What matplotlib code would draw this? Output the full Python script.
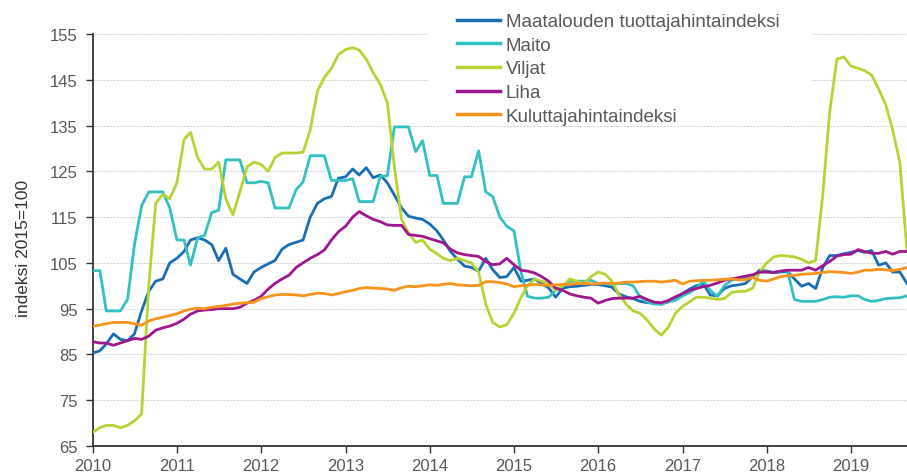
import matplotlib
matplotlib.use("Agg")
import matplotlib.pyplot as plt
import matplotlib.dates as mdates
import pandas as pd
from matplotlib.patches import Rectangle

plt.rcParams["font.family"] = ["Liberation Sans", "DejaVu Sans"]

# monthly indices, Jan 2010 - Sep 2019 (2015=100)
months = pd.date_range("2010-01-01", periods=117, freq="MS")

maatalous = [
    85.3, 85.8, 87.3, 89.5, 88.3, 88.0, 89.5, 94.5, 98.8, 101.0,
    101.5, 105.0, 106.0, 107.5, 110.0, 110.5, 110.0, 109.0, 105.5, 108.2,
    102.5, 101.5, 100.5, 103.0, 104.0, 104.8, 105.5, 108.0, 109.0, 109.5,
    110.0, 115.0, 118.0, 119.0, 119.5, 123.5, 123.8, 125.5, 124.2, 125.8,
    123.6, 124.2, 122.5, 119.8, 117.0, 115.2, 114.8, 114.5, 113.5, 112.0,
    110.0, 107.5, 105.8, 104.3, 104.0, 103.2, 106.0, 103.5, 101.8, 102.0,
    104.0, 101.0, 101.2, 101.5, 100.5, 99.5, 97.5, 99.5, 99.8, 99.9,
    100.1, 100.3, 100.3, 100.0, 99.7, 98.2, 97.6, 97.2, 96.6, 96.3,
    96.2, 96.0, 96.5, 97.3, 98.3, 99.3, 100.0, 100.4, 98.0, 97.8,
    99.4, 100.0, 100.2, 100.5, 102.0, 103.4, 103.2, 102.9, 103.0, 103.1,
    101.5, 99.9, 100.5, 99.4, 104.0, 106.6, 106.6, 107.0, 107.3, 107.7,
    107.3, 107.7, 104.5, 105.0, 103.0, 103.0, 100.5,
]

maito = [
    103.3, 103.3, 94.5, 94.5, 94.5, 97.0, 109.0, 117.5, 120.5, 120.5,
    120.5, 117.0, 110.0, 110.0, 104.5, 110.5, 111.0, 116.0, 116.5, 127.5,
    127.5, 127.5, 122.5, 122.5, 122.8, 122.5, 117.0, 117.0, 117.0, 121.0,
    122.7, 128.4, 128.4, 128.4, 123.0, 123.0, 123.0, 123.4, 118.4, 118.4,
    118.4, 124.0, 124.0, 134.7, 134.7, 134.7, 129.3, 131.7, 124.1, 124.1,
    118.0, 118.0, 118.0, 123.8, 123.8, 129.5, 120.5, 119.5, 115.0, 113.0,
    112.0, 103.0, 97.7, 97.3, 97.3, 97.5, 99.0, 100.0, 101.0, 101.0,
    101.0, 101.2, 100.5, 100.5, 100.2, 100.5, 100.5, 100.0, 97.5, 96.5,
    96.0, 96.0, 96.6, 96.8, 97.8, 98.5, 99.5, 101.0, 99.0, 97.7,
    100.0, 101.2, 101.5, 101.8, 102.2, 103.0, 103.0, 103.0, 103.2, 103.3,
    97.0, 96.6, 96.6, 96.6, 97.0, 97.5, 97.6, 97.5, 97.8, 97.8,
    97.0, 96.6, 96.8, 97.2, 97.3, 97.4, 97.8,
]

viljat = [
    68.0, 69.0, 69.5, 69.5, 69.0, 69.5, 70.5, 72.0, 100.0, 118.0,
    120.0, 119.0, 122.5, 132.0, 133.5, 128.0, 125.5, 125.5, 127.0, 119.0,
    115.5, 120.5, 126.0, 127.0, 126.5, 125.0, 128.0, 129.0, 129.0, 129.0,
    129.2, 134.0, 142.5, 145.5, 147.5, 150.5, 151.6, 152.0, 151.5, 149.5,
    146.5, 144.0, 140.0, 126.0, 114.5, 111.5, 109.5, 110.0, 108.0, 107.0,
    106.0, 105.5, 106.0, 105.5, 105.0, 103.0, 96.0, 92.0, 91.0, 91.5,
    94.0, 97.5, 100.0, 101.5, 101.0, 100.5, 99.0, 100.0, 101.5, 101.0,
    100.5, 102.0, 103.0, 102.5, 101.0, 98.0, 96.0, 94.5, 94.0, 92.5,
    90.5, 89.2, 91.0, 94.0, 95.5, 96.5, 97.5, 97.5, 97.3, 97.0,
    97.2, 98.5, 98.8, 98.8, 99.5, 103.0, 105.0, 106.3, 106.6, 106.5,
    106.3, 105.8, 105.0, 105.5, 120.0, 138.0, 149.5, 150.0, 148.0, 147.5,
    147.0, 146.0, 143.0, 139.5, 134.0, 127.0, 107.5,
]

liha = [
    87.8, 87.5, 87.5, 87.0, 87.5, 88.0, 88.5, 88.3, 89.0, 90.3,
    90.8, 91.2, 91.8, 92.7, 93.8, 94.5, 94.7, 94.8, 95.0, 95.0,
    95.0, 95.3, 96.2, 96.8, 97.7, 99.3, 100.5, 101.5, 102.3, 104.0,
    105.0, 106.0, 106.8, 107.8, 110.0, 111.8, 113.0, 115.0, 116.2, 115.3,
    114.5, 114.0, 113.3, 113.2, 113.2, 111.2, 111.0, 110.8, 110.3, 109.8,
    109.4, 108.0, 107.2, 106.8, 106.6, 106.4, 105.3, 104.6, 104.8, 106.0,
    104.6, 103.4, 103.2, 102.8, 102.0, 101.0, 99.5, 99.0, 98.2, 97.8,
    97.5, 97.3, 96.2, 96.8, 97.2, 97.3, 97.3, 97.3, 97.7, 97.0,
    96.4, 96.3, 96.8, 97.6, 98.3, 99.0, 99.4, 99.8, 100.1, 100.6,
    101.2, 101.5, 101.8, 102.1, 102.4, 103.0, 103.0, 102.9, 103.2, 103.4,
    103.4, 103.4, 104.0, 103.4, 104.4, 105.3, 106.5, 106.8, 106.9, 107.9,
    107.5, 107.1, 107.1, 107.5, 106.9, 107.5, 107.5,
]

kuluttaja = [
    91.2, 91.4, 91.7, 92.0, 92.0, 92.0, 91.7, 91.4, 92.3, 92.8,
    93.1, 93.5, 93.9, 94.5, 94.9, 95.1, 95.0, 95.3, 95.5, 95.7,
    96.0, 96.2, 96.3, 96.4, 97.2, 97.6, 98.0, 98.1, 98.1, 98.0,
    97.8, 98.1, 98.4, 98.3, 98.0, 98.3, 98.7, 99.0, 99.4, 99.6,
    99.5, 99.4, 99.3, 99.0, 99.6, 99.9, 99.8, 100.0, 100.2, 100.1,
    100.3, 100.5, 100.2, 100.1, 100.0, 100.1, 100.9, 100.9, 100.7, 100.4,
    99.8, 100.0, 100.1, 100.3, 100.2, 100.1, 100.2, 100.3, 100.3, 100.5,
    100.5, 100.4, 100.5, 100.6, 100.5, 100.6, 100.8, 100.8, 100.9, 101.0,
    101.0, 100.8, 101.0, 101.2, 100.4, 101.0, 101.1, 101.2, 101.2, 101.3,
    101.4, 101.5, 101.3, 101.3, 101.8, 101.2, 101.0, 101.5, 102.0, 102.2,
    102.3, 102.5, 102.6, 102.7, 102.9, 103.1, 103.0, 102.9, 102.7, 103.0,
    103.4, 103.4, 103.6, 103.5, 103.3, 103.6, 104.0,
]

labels = [
    "Maatalouden tuottajahintaindeksi",
    "Maito",
    "Viljat",
    "Liha",
    "Kuluttajahintaindeksi",
]
colors = ["#1a6fb4", "#33c0c0", "#b6d433", "#a0168f", "#f7941d"]
y_ticks = [65, 75, 85, 95, 105, 115, 125, 135, 145, 155]

W, H = 907, 477
fig = plt.figure(figsize=(W / 100, H / 100), dpi=100)
ax = fig.add_axes([92.7 / W, 1 - 447 / H, 1 - 92.7 / W, (447 - 35) / H])

for vals, lab, col in zip([maatalous, maito, viljat, liha, kuluttaja], labels, colors):
    ax.plot(months, vals, color=col, lw=2.0, label=lab, zorder=3)

ax.set_ylim(65, 155)
ax.set_yticks(y_ticks)
ax.set_xlim(months[0], months[-1])
ax.xaxis.set_major_locator(mdates.YearLocator())
ax.xaxis.set_major_formatter(mdates.DateFormatter("%Y"))

for s in ["top", "right"]:
    ax.spines[s].set_visible(False)
for s in ["left", "bottom"]:
    ax.spines[s].set_color("#333333")
    ax.spines[s].set_linewidth(1.3)

ax.set_axisbelow(True)
ax.yaxis.grid(True, color="#d6d6d6", ls=(0, (2, 1)), lw=0.8)
ax.tick_params(labelsize=12, labelcolor="#595959", color="#333333",
               direction="out", length=5, width=1)
ax.tick_params(axis="y", pad=6)

fig.text(0.026, 0.48, "indeksi 2015=100", rotation=90, ha="center",
         va="center", fontsize=12.5, color="#333333")

# white box behind the legend hides the gridlines there
ax.add_patch(Rectangle((428 / W, 1 - 125 / H), (812 - 428) / W, 125 / H,
                       transform=fig.transFigure, facecolor="white",
                       edgecolor="none", zorder=1))
leg = ax.legend(loc="upper left", bbox_to_anchor=(457 / W, 1 - 14 / H),
                bbox_transform=fig.transFigure, frameon=False, fontsize=13.5,
                handlelength=2.3, handletextpad=0.3, labelspacing=0.35,
                borderpad=0, borderaxespad=0)
for t in leg.get_texts():
    t.set_color("#595959")
for h in leg.get_lines():
    h.set_linewidth(2.5)

fig.savefig("out.png", dpi=100)
